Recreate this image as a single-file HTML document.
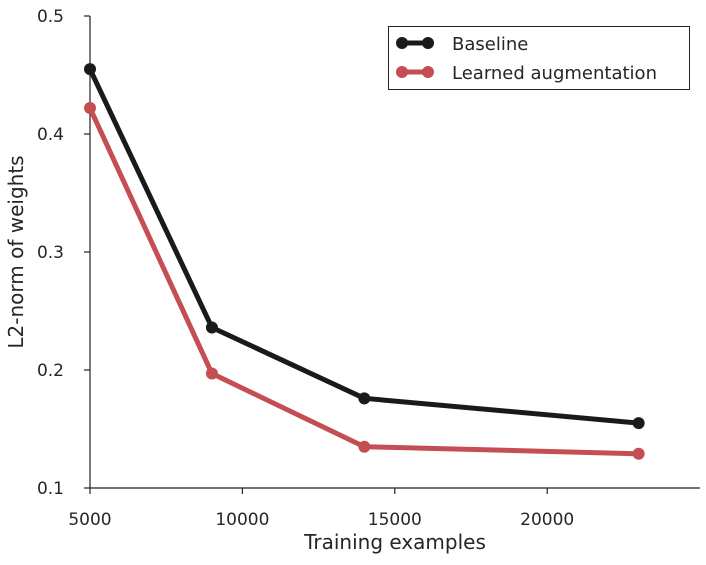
<!DOCTYPE html>
<html><head><meta charset="utf-8"><style>
html,body{margin:0;padding:0;background:#fff;}
svg text{font-family:"DejaVu Sans","Liberation Sans",sans-serif;fill:#262626;}
</style></head><body>
<svg id="chart" width="706" height="560" viewBox="0 0 706 560" xmlns="http://www.w3.org/2000/svg">
<g id="axes"></g>
<g id="series"></g>
<g>
  <rect x="388.5" y="26.5" width="301" height="63" fill="#fff" stroke="#222" stroke-width="1"/>
  <g>
    <line x1="400" y1="43" x2="430" y2="43" stroke="#1a1a1a" stroke-width="5"/>
    <circle cx="402" cy="43" r="6" fill="#1a1a1a"/><circle cx="428" cy="43" r="6" fill="#1a1a1a"/>
    <text x="452" y="50" font-size="18">Baseline</text>
  </g>
  <g>
    <line x1="400" y1="72" x2="430" y2="72" stroke="#c44e52" stroke-width="5"/>
    <circle cx="402" cy="72" r="6" fill="#c44e52"/><circle cx="428" cy="72" r="6" fill="#c44e52"/>
    <text x="452" y="79" font-size="18">Learned augmentation</text>
  </g>
</g>
<text x="395" y="549" font-size="20" text-anchor="middle">Training examples</text>
<text transform="translate(23,252) rotate(-90)" font-size="20" text-anchor="middle">L2-norm of weights</text>
</svg>
<script>
const examples = [5000, 9000, 14000, 23000];
const baseline = [0.455, 0.236, 0.176, 0.155];
const learned = [0.422, 0.197, 0.135, 0.129];
const xTicks = [5000, 10000, 15000, 20000];
const yTicks = [0.1, 0.2, 0.3, 0.4, 0.5];
const yTickLabels = ["0.1", "0.2", "0.3", "0.4", "0.5"];

const NS = "http://www.w3.org/2000/svg";
function xs(v){ return 90 + (v - 5000) * (152.4 / 5000); }
function ys(v){ return 488 - (v - 0.1) * 1180; }
function mk(tag, attrs, parent){
  const e = document.createElementNS(NS, tag);
  for (const k in attrs) e.setAttribute(k, attrs[k]);
  parent.appendChild(e); return e;
}
const axes = document.getElementById('axes');
const yAxis = mk('line', {x1:90, y1:16, x2:90, y2:488, stroke:'#222', 'stroke-width':1.2}, axes);


const xAxis = mk('line', {x1:90, y1:488, x2:700, y2:488, stroke:'#222', 'stroke-width':1.2}, axes);


yTicks.forEach((t, i) => {
  const y = ys(t);
  const tk = mk('line', {x1:84, y1:y, x2:90, y2:y, stroke:'#222', 'stroke-width':1.2}, axes);
  
  
  const lb = mk('text', {x:64, y:y+6, 'font-size':17, 'text-anchor':'end'}, axes);
  lb.textContent = yTickLabels[i];
  
  
});
xTicks.forEach(t => {
  const x = xs(t);
  const tk = mk('line', {x1:x, y1:488, x2:x, y2:494, stroke:'#222', 'stroke-width':1.2}, axes);
  
  
  const lb = mk('text', {x:x, y:525, 'font-size':17, 'text-anchor':'middle'}, axes);
  lb.textContent = String(t);
  
  
});
const series = document.getElementById('series');
function draw(vals, color, name){
  const g = mk('g', {}, series);
  
  
  const pts = vals.map((v, i) => xs(examples[i]) + ',' + ys(v)).join(' ');
  const pl = mk('polyline', {points:pts, fill:'none', stroke:color, 'stroke-width':5, 'stroke-linejoin':'round'}, g);
  
  
  vals.forEach((v, i) => {
    const c = mk('circle', {cx:xs(examples[i]), cy:ys(v), r:6, fill:color}, g);
    
    
  });
}
draw(learned, '#c44e52', 'learned-augmentation-series');
draw(baseline, '#1a1a1a', 'baseline-series');
</script>
</body></html>
